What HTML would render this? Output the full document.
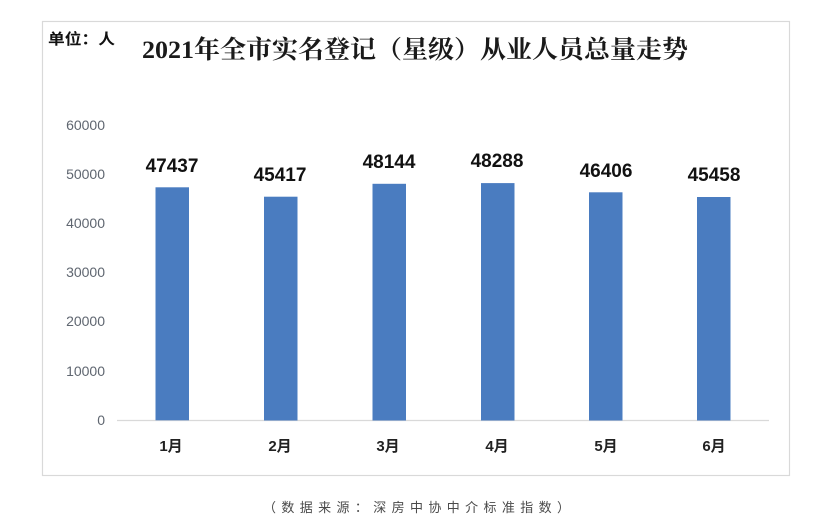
<!DOCTYPE html>
<html><head><meta charset="utf-8"><style>
html,body{margin:0;padding:0;background:#fff;}
svg{display:block;}
</style></head><body>
<svg width="831" height="532" viewBox="0 0 831 532" xmlns="http://www.w3.org/2000/svg">
<rect x="0" y="0" width="831" height="532" fill="#fff"/>
<rect x="42.5" y="21.5" width="747" height="454" fill="#fff" stroke="#d9d9d9" stroke-width="1.2"/>
<text x="48" y="44" font-family="'Liberation Sans','Noto Sans CJK SC',sans-serif" font-weight="bold" font-size="15" fill="#111" textLength="67" lengthAdjust="spacingAndGlyphs">单位：人</text>
<text x="142" y="58" font-family="'Liberation Serif','Noto Serif CJK SC',serif" font-weight="bold" font-size="25" fill="#1a1a1a" textLength="546" lengthAdjust="spacingAndGlyphs">2021年全市实名登记（星级）从业人员总量走势</text>
<g font-family="'Liberation Sans',sans-serif" font-size="14" fill="#5f6670" text-anchor="end">
<text x="105" y="130">60000</text>
<text x="105" y="179">50000</text>
<text x="105" y="228">40000</text>
<text x="105" y="277">30000</text>
<text x="105" y="326">20000</text>
<text x="105" y="376">10000</text>
<text x="105" y="425">0</text>
</g>
<line x1="117" y1="420.5" x2="769" y2="420.5" stroke="#d9d9d9" stroke-width="1.2"/>
<g fill="#4a7cc0">
<rect x="155.5" y="187.3" width="33.5" height="233"/>
<rect x="264" y="196.7" width="33.5" height="223.8"/>
<rect x="372.5" y="183.8" width="33.5" height="236.7"/>
<rect x="481" y="183.1" width="33.5" height="237.4"/>
<rect x="589" y="192.3" width="33.5" height="228.2"/>
<rect x="697" y="197" width="33.5" height="223.5"/>
</g>
<g font-family="'Liberation Sans',sans-serif" font-weight="bold" font-size="19" fill="#111" text-anchor="middle">
<text x="172" y="172">47437</text>
<text x="280" y="181">45417</text>
<text x="389" y="168">48144</text>
<text x="497" y="167">48288</text>
<text x="606" y="177">46406</text>
<text x="714" y="181">45458</text>
</g>
<g font-family="'Liberation Sans','Noto Sans CJK SC',sans-serif" font-weight="bold" font-size="15" fill="#222" text-anchor="middle">
<text x="171" y="451">1月</text>
<text x="280" y="451">2月</text>
<text x="388" y="451">3月</text>
<text x="497" y="451">4月</text>
<text x="606" y="451">5月</text>
<text x="714" y="451">6月</text>
</g>
<text x="263" y="512" font-family="'Liberation Sans','Noto Sans CJK SC',sans-serif" font-size="13" fill="#4a4a4a" textLength="307" lengthAdjust="spacing">（数据来源：深房中协中介标准指数）</text>
</svg>
</body></html>
